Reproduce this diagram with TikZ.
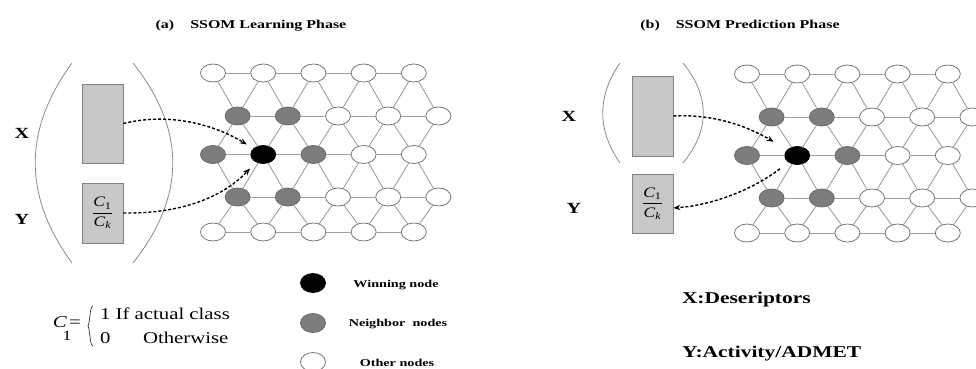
\documentclass[tikz,border=0pt]{standalone}
\usepackage{fontspec}
\usepackage{amsmath}
\usepackage{graphicx}
\setmainfont{Liberation Serif}
\usetikzlibrary{arrows.meta,shapes.geometric}

\definecolor{gridline}{RGB}{160,160,160}
\definecolor{rim}{RGB}{120,120,120}
\definecolor{nbfill}{RGB}{125,125,125}
\definecolor{boxfill}{RGB}{200,200,200}
\definecolor{boxrim}{RGB}{130,130,130}
\definecolor{arcline}{RGB}{140,140,140}

% horizontal stretch of a piece of text
\newcommand\hs[2][1.3]{\scalebox{#1}[1]{#2}}
\newcommand\legendfont{\fontsize{10.5}{12}\selectfont\bfseries}
\newcommand\varfont{\fontsize{15.5}{17}\selectfont\bfseries}
\newcommand\classfrac{\fontsize{14.5}{16}\selectfont\hs[1.2]{$\dfrac{\textit{C}_{\textrm{1}}}{\textit{C}_{\textit{k}}}$}}

\begin{document}
\begin{tikzpicture}[x=1pt,y=-1pt,
  som/.style={ellipse, draw=rim, line width=0.8pt, fill=white,
    minimum width=25pt, minimum height=18pt, inner sep=0pt, outer sep=0pt},
  winner/.style={fill=black, draw=black},
  neighbour/.style={fill=nbfill, draw=nbfill!85!black},
  cell 2-1/.style={winner},
  cell 1-0/.style={neighbour}, cell 1-1/.style={neighbour},
  cell 2-0/.style={neighbour}, cell 2-2/.style={neighbour},
  cell 3-0/.style={neighbour}, cell 3-1/.style={neighbour},
  link/.style={draw=gridline, line width=0.9pt},
  vecbox/.style={draw=boxrim, fill=boxfill, line width=0.8pt,
    inner sep=0pt, minimum width=41pt},
  flow/.style={dash pattern=on 3pt off 2pt, line width=1.4pt,
    -{Stealth[length=7pt,width=5.5pt]}},
  bracket/.style={draw=arcline, line width=0.8pt},
  lbl/.style={inner sep=0pt, outer sep=0pt}
]
\useasboundingbox (0,0) rectangle (976,369);
\clip (0,0) rectangle (976,369);
\fill[white] (0,0) rectangle (976,369);

% titles
\node[lbl, anchor=base] (titleA) at (251,28.5)
  {\fontsize{12}{14}\selectfont\bfseries\hs[1.33]{(a)\hspace{1em}SSOM Learning Phase}};
\node[lbl, anchor=base] (titleB) at (740,28.5)
  {\fontsize{12}{14}\selectfont\bfseries\hs[1.33]{(b)\hspace{1em}SSOM Prediction Phase}};

% the two hexagonal maps
\foreach \p/\dx/\dy in {L/0/0,R/534/1}{
  \foreach \r/\y in {0/73,1/116,2/154.5,3/197,4/232}{
    \foreach \c in {0,...,4}{
      \pgfmathsetmacro\xx{213+\dx+50.2*\c+24.6*mod(\r,2)}
      \node[som, cell \r-\c/.try] (\p-\r-\c) at (\xx,\y+\dy) {};
    }
  }
  \foreach \r in {0,...,4}{
    \foreach \c/\n in {0/1,1/2,2/3,3/4}{
      \draw[link] (\p-\r-\c) -- (\p-\r-\n);
    }
  }
  \foreach \o/\u/\d in {1/0/2,3/2/4}{
    \foreach \c in {0,...,4}{
      \draw[link] (\p-\u-\c) -- (\p-\o-\c) -- (\p-\d-\c);
    }
    \foreach \c/\n in {0/1,1/2,2/3,3/4}{
      \draw[link] (\p-\u-\n) -- (\p-\o-\c) -- (\p-\d-\n);
    }
  }
}

% learning phase: input vectors
\draw[bracket] (72,63) .. controls (23,130) and (23,196) .. (72,263);
\draw[bracket] (133,63) .. controls (186,130) and (186,196) .. (133,263);
\node[vecbox, minimum height=79pt] (LX) at (102.5,123.5) {};
\node[vecbox, minimum height=60pt] (LY) at (102.5,213) {\classfrac};
\node[lbl, anchor=base] (LXlab) at (22,138.3) {\varfont\hs{X}};
\node[lbl, anchor=base] (LYlab) at (22,224) {\varfont\hs{Y}};

\draw[flow, shorten >=8pt] (LX.east) .. controls (170,112) and (215,125) .. (L-2-1);
\draw[flow, shorten >=9pt] (LY.east) .. controls (185,214) and (225,195) .. (L-2-1);

% prediction phase: input and predicted output
\draw[bracket] (620,63) .. controls (597,96) and (597,130) .. (620,163);
\draw[bracket] (683,63) .. controls (710,96) and (710,130) .. (683,163);
\node[vecbox, minimum height=80pt] (RX) at (652.5,116) {};
\node[vecbox, minimum height=59pt] (RY) at (652.5,203.5) {\classfrac};
\node[lbl, anchor=base] (RXlab) at (569,121.7) {\varfont\hs{X}};
\node[lbl, anchor=base] (RYlab) at (574,213.3) {\varfont\hs{Y}};

\draw[flow, shorten >=16pt] (RX.east) .. controls (712,114) and (745,125) .. (R-2-1);
\draw[flow, shorten <=11pt] (R-2-1) .. controls (755,188) and (715,205) .. (RY.-12);

% class indicator definition
\node[lbl, anchor=base] (eqC) at (60,327.5) {\fontsize{16.5}{18}\selectfont\hs[1.26]{\textit{C}}};
\node[lbl, anchor=base] (eqOne) at (67,340) {\fontsize{14}{15}\selectfont\hs[1.26]{1}};
\node[lbl, anchor=base] (eqEq) at (75,327.3) {\fontsize{16.5}{18}\selectfont\hs[1.26]{=}};
\draw[line width=0.7pt, black!80] (93,306) .. controls (89.5,307) and (90.5,320) .. (88,326)
  .. controls (90.5,332) and (89.5,345) .. (93,346);
\node[lbl, anchor=base west] (caseOne) at (100,319.5)
  {\fontsize{16.5}{18}\selectfont\hs[1.26]{1 If actual class}};
\node[lbl, anchor=base west] (caseZero) at (100,343.3)
  {\fontsize{16.5}{18}\selectfont\hs[1.26]{0}};
\node[lbl, anchor=base west] (caseElse) at (143,343.3)
  {\fontsize{16.5}{18}\selectfont\hs[1.26]{Otherwise}};

% legend
\node[som, winner, minimum height=19pt] (keyWin) at (313,283) {};
\node[som, neighbour, minimum height=19pt] (keyNb) at (313,323) {};
\node[som, minimum height=19pt] (keyOther) at (313,362) {};
\node[lbl, anchor=base] (keyWinTxt) at (396,287) {\legendfont\hs[1.35]{Winning node}};
\node[lbl, anchor=base] (keyNbTxt) at (398,326.7) {\legendfont\hs[1.35]{Neighbor\ \ nodes}};
\node[lbl, anchor=base] (keyOtherTxt) at (397,366) {\legendfont\hs[1.35]{Other nodes}};

% meaning of X and Y
\node[lbl, anchor=base west] (descX) at (682,303)
  {\fontsize{16.5}{18}\selectfont\bfseries\hs{X:Deseriptors}};
\node[lbl, anchor=base west] (descY) at (682,357)
  {\fontsize{16.5}{18}\selectfont\bfseries\hs{Y:Activity/ADMET}};
\end{tikzpicture}
\end{document}
